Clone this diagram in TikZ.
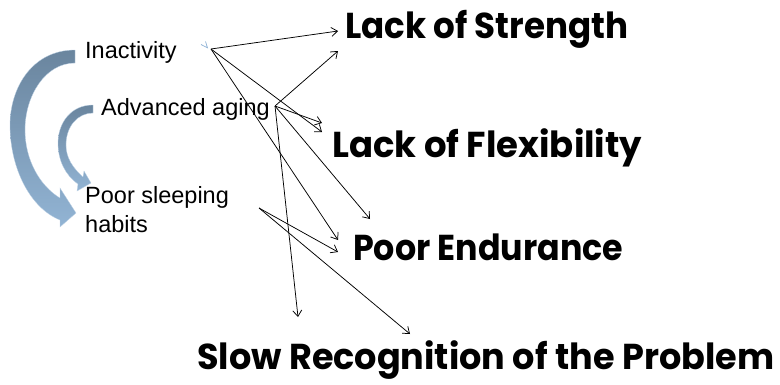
\documentclass[tikz,border=0pt]{standalone}
\usepackage{fontspec}
\usepackage{graphicx}
\setmainfont{Liberation Sans}
\newfontfamily\headfont{Poppins}
\usetikzlibrary{arrows.meta}

\definecolor{bandtop}{RGB}{106,133,158}
\definecolor{bandbot}{RGB}{146,180,212}
\definecolor{tickblue}{RGB}{140,176,212}

% bold headline squeezed to a given width, height kept
\newcommand{\headline}[2]{\resizebox{#1}{\height}{\headfont\bfseries #2}}

\tikzset{
  cause/.style={font=\fontsize{23.5}{29}\selectfont, inner sep=0pt, anchor=base west, align=left},
  effect/.style={font=\fontsize{36}{40}\selectfont, inner sep=0pt, anchor=base west},
  link/.style={draw=black, line width=0.75pt, -{Straight Barb[length=6pt,width=9pt]}},
  band/.style={top color=bandtop, bottom color=bandbot, draw=bandbot!60!white, line width=0.3pt}
}

\begin{document}
\begin{tikzpicture}[x=1pt,y=-1pt]
\useasboundingbox (0,0) rectangle (780,384);

% curved block arrows on the left
\path[band] (75,50) .. controls (32,50) and (10,88) .. (10,125)
  .. controls (10,168) and (30,208) .. (60,220)
  -- (60,227) -- (76,213) -- (60,188) -- (60,198)
  .. controls (40,186) and (25,160) .. (25,130)
  .. controls (25,96) and (45,63) .. (75,63) -- cycle;
\path[band] (93,105) .. controls (70,105) and (58,124) .. (58,143)
  .. controls (58,160) and (65,175) .. (78,184)
  -- (77,191) -- (91,183) -- (84,171) -- (83,177)
  .. controls (73,168) and (66,158) .. (66,145)
  .. controls (66,126) and (78,113) .. (93,113) -- cycle;

% causes (a two-line node sits on the baseline of its last line)
\node[cause] (inact) at (85,58) {Inactivity};
\node[cause] (aging) at (101,115) {Advanced aging};
\node[cause] (sleep) at (85,232) {Poor sleeping\\habits};

% effects
\node[effect] (strength) at (345,38) {\headline{283pt}{Lack of Strength}};
\node[effect] (flex) at (332,157) {\headline{310pt}{Lack of Flexibility}};
\node[effect] (endur) at (353,260) {\headline{270pt}{Poor Endurance}};
\node[effect] (slow) at (197,369) {\headline{577pt}{Slow Recognition of the Problem}};

% connector ends
\coordinate (srcA) at (211,49);
\coordinate (srcB) at (275,106);
\coordinate (srcC) at (259,208);
\coordinate (tStrA) at (338,31);
\coordinate (tStrB) at (338,51);
\coordinate (tFlxA) at (322,132);
\coordinate (tFlxB) at (322,123);
\coordinate (tEndA) at (338,240);
\coordinate (tEndB) at (370,219);
\coordinate (tEndC) at (338,252);
\coordinate (tSlwB) at (298,317);
\coordinate (tSlwC) at (410,334);

% small leftover tick near the first source
\coordinate (tickL) at (201,44.5);
\coordinate (tickU) at (205.5,41.5);
\coordinate (tickP) at (207.5,47.8);
\draw[tickblue, line width=0.7pt] (tickL) -- (tickP) -- (tickU);

% connectors
\draw[link] (srcA) -- (tStrA);
\draw[link] (srcA) -- (tFlxA);
\draw[link] (srcA) -- (tEndA);
\draw[link] (srcB) -- (tStrB);
\draw[link] (srcB) -- (tFlxB);
\draw[link] (srcB) -- (tEndB);
\draw[link] (srcB) -- (tSlwB);
\draw[link] (srcC) -- (tEndC);
\draw[link] (srcC) -- (tSlwC);
\end{tikzpicture}
\end{document}
